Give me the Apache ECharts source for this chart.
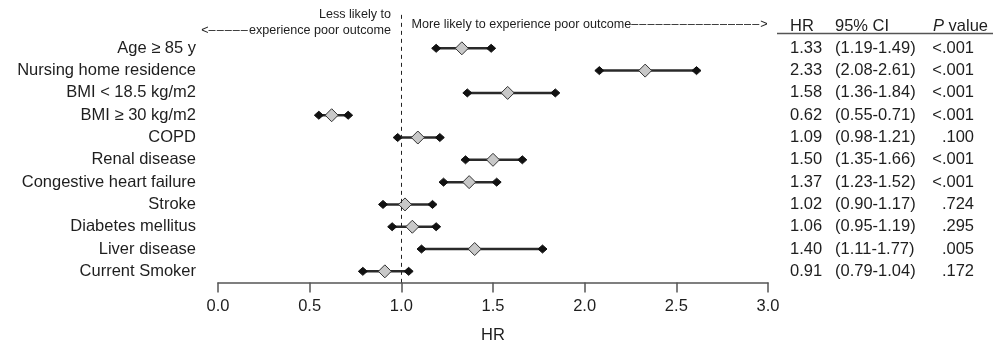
<!DOCTYPE html>
<html>
<head>
<meta charset="utf-8">
<script src="https://cdn.jsdelivr.net/npm/echarts@6/dist/echarts.min.js"></script>
<style>
  html, body { margin: 0; padding: 0; background: #fff; }
  #chart { width: 993px; height: 345px; }
</style>
</head>
<body>
<div id="chart"></div>
<script>
// forest plot data
var categorias = ['Age \u2265 85 y', 'Nursing home residence', 'BMI < 18.5 kg/m2', 'BMI \u2265 30 kg/m2',
    'COPD', 'Renal disease', 'Congestive heart failure', 'Stroke', 'Diabetes mellitus',
    'Liver disease', 'Current Smoker'];
var hr    = [1.33, 2.33, 1.58, 0.62, 1.09, 1.50, 1.37, 1.02, 1.06, 1.40, 0.91];
var ciLo  = [1.19, 2.08, 1.36, 0.55, 0.98, 1.35, 1.23, 0.90, 0.95, 1.11, 0.79];
var ciHi  = [1.49, 2.61, 1.84, 0.71, 1.21, 1.66, 1.52, 1.17, 1.19, 1.77, 1.04];
var pValor = ['<.001', '<.001', '<.001', '<.001', '.100', '<.001', '<.001', '.724', '.295', '.005', '.172'];
var xTicks = [0, 0.5, 1.0, 1.5, 2.0, 2.5, 3.0];
var linhaRef = 1;

var fonte = '"Liberation Sans", Arial, sans-serif';
var corTexto = '#1e1e1e';

// primeira categoria vazia = linha do cabecalho
var yCats = [''].concat(categorias);

var dados = [];
for (var i = 0; i < hr.length; i++) {
    dados.push([ciLo[i], hr[i], ciHi[i], i + 1]);
}

function tracos(n) {
    var s = '';
    for (var k = 0; k < n; k++) s += '\u2013\u200a';
    return s;
}

function losango(x, y, w, h, fill, stroke) {
    return {
        type: 'polygon',
        shape: { points: [[x, y - h / 2], [x + w / 2, y], [x, y + h / 2], [x - w / 2, y]] },
        style: { fill: fill, stroke: stroke, lineWidth: 1 }
    };
}

var chart = echarts.init(document.getElementById('chart'));

var option = {
    animation: false,
    backgroundColor: '#fff',
    textStyle: { fontFamily: fonte },
    grid: { left: 218, right: 225, top: 14.85, bottom: 62.5, outerBoundsMode: 'none', containLabel: false },
    xAxis: {
        type: 'value',
        min: 0, max: 3, interval: 0.5,
        name: 'HR', nameLocation: 'middle', nameGap: 44.5,
        nameTextStyle: { fontSize: 16.5, color: corTexto, fontFamily: fonte },
        axisLine: { show: true, lineStyle: { color: '#555', width: 1.5 } },
        axisTick: { show: true, length: 10, lineStyle: { color: '#555', width: 1.5 } },
        axisLabel: {
            fontSize: 16.5, color: corTexto, margin: 15, fontFamily: fonte,
            formatter: function (v) { return xTicks.indexOf(v) >= 0 ? v.toFixed(1) : ''; }
        },
        splitLine: { show: false }
    },
    yAxis: [
        {
            type: 'category', data: yCats, inverse: true,
            axisLine: { show: false }, axisTick: { show: false }, splitLine: { show: false },
            axisLabel: { interval: 0, fontSize: 16.5, color: corTexto, margin: 22, fontFamily: fonte }
        },
        {
            type: 'category', data: yCats, inverse: true, position: 'right',
            axisLine: { show: false }, axisTick: { show: false }, splitLine: { show: false },
            axisLabel: {
                interval: 0, margin: 22, fontSize: 16.5, color: corTexto, fontFamily: fonte,
                formatter: function (v, idx) {
                    if (idx === 0) return '{hr|HR}{ci|95% CI}{pi|P}{ph| value}';
                    var k = idx - 1;
                    return '{hr|' + hr[k].toFixed(2) + '}{ci|(' + ciLo[k].toFixed(2) + '-' +
                        ciHi[k].toFixed(2) + ')}{p|' + pValor[k] + '}';
                },
                rich: {
                    hr: { width: 45, fontSize: 16.5, color: corTexto, fontFamily: fonte },
                    ci: { width: 98, fontSize: 16.5, color: corTexto, fontFamily: fonte },
                    p: { width: 41, align: 'right', fontSize: 16.5, color: corTexto, fontFamily: fonte },
                    pi: { fontStyle: 'italic', fontSize: 16.5, color: corTexto, fontFamily: fonte },
                    ph: { fontSize: 16.5, color: corTexto, fontFamily: fonte }
                }
            }
        }
    ],
    graphic: [
        { type: 'line', shape: { x1: 777, y1: 33.5, x2: 993, y2: 33.5 }, style: { stroke: '#555', lineWidth: 1.5 } },
        { type: 'text', x: 391, y: 15, style: { text: 'Less likely to', fontSize: 12.6, fontFamily: fonte, fill: corTexto, align: 'right', verticalAlign: 'middle' } },
        { type: 'text', x: 391, y: 30.5, style: { text: '<' + tracos(5) + 'experience poor outcome', fontSize: 12.6, fontFamily: fonte, fill: corTexto, align: 'right', verticalAlign: 'middle' } },
        { type: 'text', x: 411.5, y: 25, style: { text: 'More likely to experience poor outcome' + tracos(16) + '>', fontSize: 12.6, fontFamily: fonte, fill: corTexto, align: 'left', verticalAlign: 'middle' } }
    ],
    series: [
        {
            type: 'custom',
            xAxisIndex: 0, yAxisIndex: 0,
            dimensions: ['lo', 'hr', 'hi', 'row'],
            encode: { x: ['lo', 'hr', 'hi'], y: 'row' },
            data: dados,
            renderItem: function (params, api) {
                var y = api.value(3);
                var pLo = api.coord([api.value(0), y]);
                var pHr = api.coord([api.value(1), y]);
                var pHi = api.coord([api.value(2), y]);
                return {
                    type: 'group',
                    children: [
                        { type: 'line', shape: { x1: pLo[0], y1: pLo[1], x2: pHi[0], y2: pHi[1] },
                          style: { stroke: '#2a2a2a', lineWidth: 2.5 } },
                        losango(pLo[0], pLo[1], 9, 8, '#111', '#111'),
                        losango(pHi[0], pHi[1], 9, 8, '#111', '#111'),
                        losango(pHr[0], pHr[1], 13, 13, '#c8c8c8', '#333')
                    ]
                };
            }
        },
        {
            type: 'line',
            xAxisIndex: 0, yAxisIndex: 0,
            data: [],
            markLine: {
                silent: true, symbol: 'none',
                label: { show: false },
                lineStyle: { type: [4, 4], color: '#222', width: 1 },
                data: [{ xAxis: linhaRef }]
            }
        }
    ]
};

chart.setOption(option);
</script>
</body>
</html>
